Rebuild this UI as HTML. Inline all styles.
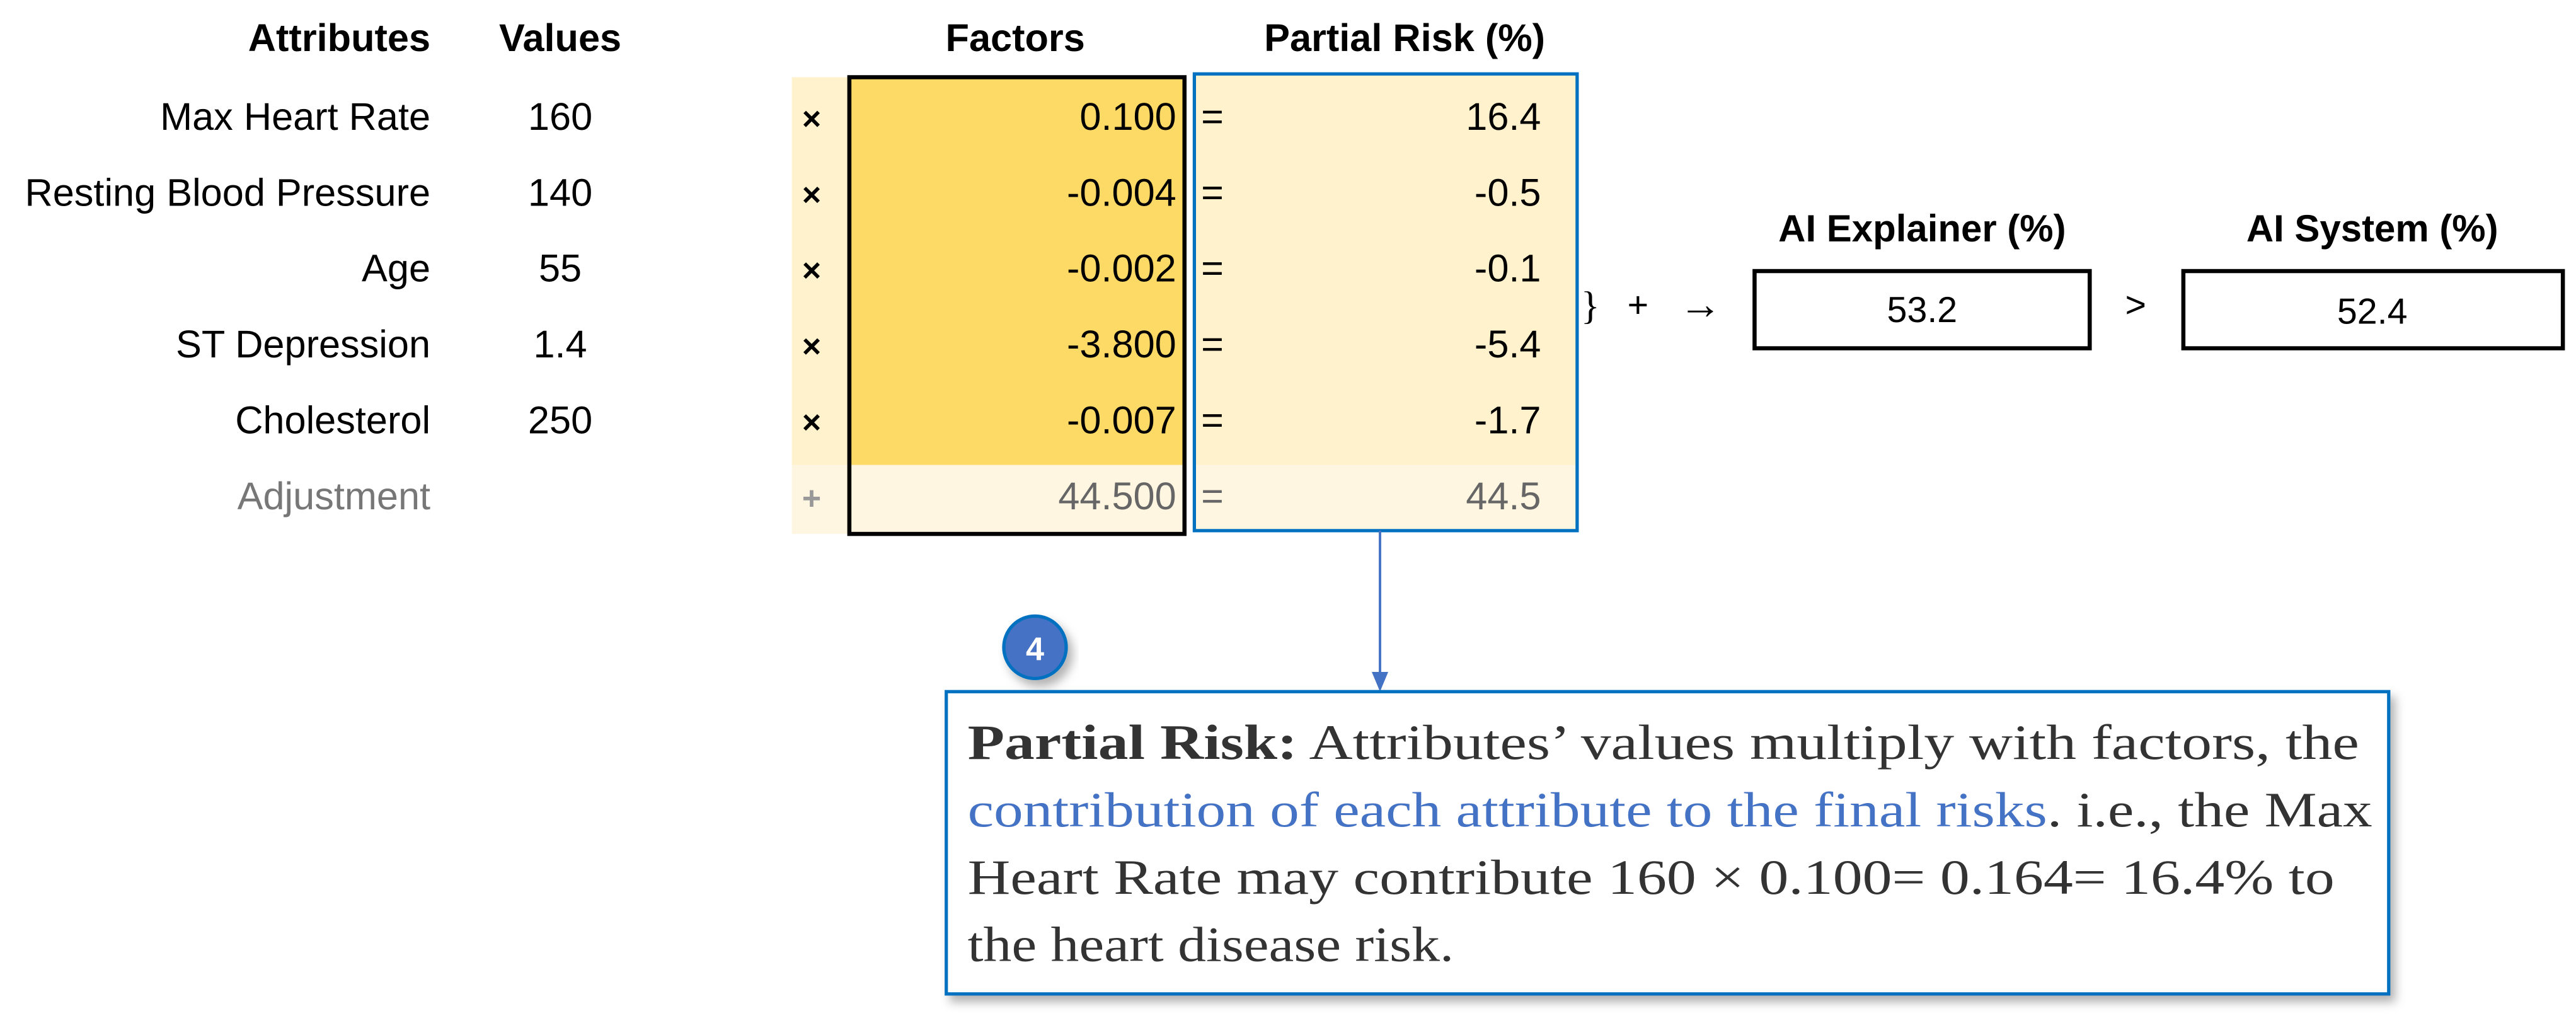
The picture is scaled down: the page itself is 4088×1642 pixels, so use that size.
<!DOCTYPE html>
<html><head><meta charset="utf-8"><style>
html,body{margin:0;padding:0;background:#fff;width:4088px;height:1642px;overflow:hidden}
svg{display:block}
.s{font-family:"Liberation Sans",Arial,sans-serif}
.r{font-family:"Liberation Serif","Times New Roman",serif}
</style></head><body>
<svg width="4088" height="1642" viewBox="0 0 1568 630" preserveAspectRatio="none">
<defs>
<filter id="sh" x="-10%" y="-10%" width="130%" height="130%"><feDropShadow dx="3" dy="4" stdDeviation="3" flood-color="#000" flood-opacity="0.3"/></filter>
</defs>
<g class="s" font-size="23.5" font-weight="bold" fill="#000">
<text x="262" y="31" text-anchor="end">Attributes</text>
<text x="341" y="31" text-anchor="middle">Values</text>
<text x="618" y="31" text-anchor="middle">Factors</text>
<text x="855" y="31" text-anchor="middle">Partial Risk (%)</text>
</g>
<rect x="482" y="47" width="240" height="236" fill="#FFF2CC"/>
<rect x="482" y="283" width="240" height="42" fill="#FFF6E1"/>
<rect x="517" y="47" width="204" height="236" fill="#FDD966"/>
<rect x="726" y="45" width="234" height="238" fill="#FFF2CC"/>
<rect x="726" y="283" width="234" height="40" fill="#FFF6E1"/>
<g id="rows"></g>
<rect x="517" y="47" width="204" height="278" fill="none" stroke="#000" stroke-width="2.5"/>
<rect x="727" y="45" width="233" height="278" fill="none" stroke="#0070C0" stroke-width="2"/>
<g class="s" font-size="22" fill="#000">
<text x="968" y="194" text-anchor="middle" class="r" font-size="24">}</text>
<text x="997" y="193" text-anchor="middle">+</text>
<text x="1035" y="194" text-anchor="middle" font-size="26">→</text>
<text x="1170" y="147" text-anchor="middle" font-weight="bold" font-size="23">AI Explainer (%)</text>
<rect x="1068" y="165" width="204" height="47" fill="#fff" stroke="#000" stroke-width="2.5"/>
<text x="1170" y="196" text-anchor="middle">53.2</text>
<text x="1300" y="193" text-anchor="middle">&gt;</text>
<text x="1444" y="147" text-anchor="middle" font-weight="bold" font-size="23">AI System (%)</text>
<rect x="1329" y="165" width="231" height="47" fill="#fff" stroke="#000" stroke-width="2.5"/>
<text x="1444" y="197" text-anchor="middle">52.4</text>
</g>
<line x1="840" y1="323" x2="840" y2="412" stroke="#4472C4" stroke-width="1.5"/>
<polygon points="835,409 845,409 840,421" fill="#4472C4"/>
<circle cx="630" cy="394" r="19" fill="#4472C4" stroke="#0070C0" stroke-width="2" filter="url(#sh)"/>
<text x="630" y="402" text-anchor="middle" class="s" font-size="20" font-weight="bold" fill="#fff">4</text>
<rect x="576" y="421" width="878" height="184" fill="#fff" stroke="#0070C0" stroke-width="2" filter="url(#sh)"/>
<g class="r" font-size="30" fill="#333">
<text x="589" y="462" textLength="847" lengthAdjust="spacingAndGlyphs"><tspan font-weight="bold">Partial Risk:</tspan> Attributes’ values multiply with factors, the</text>
<text x="589" y="503" textLength="855" lengthAdjust="spacingAndGlyphs"><tspan fill="#4472C4">contribution of each attribute to the final risks</tspan>. i.e., the Max</text>
<text x="589" y="544" textLength="832" lengthAdjust="spacingAndGlyphs">Heart Rate may contribute 160 × 0.100= 0.164= 16.4% to</text>
<text x="589" y="585" textLength="296" lengthAdjust="spacingAndGlyphs">the heart disease risk.</text>
</g>
</svg>
<script>
const attributes=["Max Heart Rate","Resting Blood Pressure","Age","ST Depression","Cholesterol","Adjustment"];
const values=["160","140","55","1.4","250",""];
const factors=["0.100","-0.004","-0.002","-3.800","-0.007","44.500"];
const partials=["16.4","-0.5","-0.1","-5.4","-1.7","44.5"];
const ops=["×","×","×","×","×","+"];
const NS="http://www.w3.org/2000/svg";
const g=document.getElementById('rows');
function rowY(i){return 79+i*46.2;}
function t(x,y,s,anchor,fill,name){
  const e=document.createElementNS(NS,'text');
  e.setAttribute('x',x);e.setAttribute('y',y);e.setAttribute('text-anchor',anchor);
  e.setAttribute('fill',fill);e.setAttribute('font-size','23.5');e.setAttribute('class','s');
  e.textContent=s;
  
  
  g.appendChild(e);return e;
}
attributes.forEach((a,i)=>{
  const y=rowY(i);const adj=i===attributes.length-1;
  const c=adj?'#777':'#000';
  t(262,y,a,'end',c,'attribute-label');
  t(341,y,values[i],'middle',c,'attribute-value');
  const o=t(494,y,ops[i],'middle',adj?'#999':'#000','operator');
  o.setAttribute('font-size','20');
  o.setAttribute('font-weight','bold');
  t(716,y,factors[i],'end',adj?'#666':'#000','factor-value');
  t(738,y,'=','middle',adj?'#666':'#000','equals-sign');
  t(938,y,partials[i],'end',adj?'#666':'#000','partial-risk-value');
});
</script>
</body></html>
